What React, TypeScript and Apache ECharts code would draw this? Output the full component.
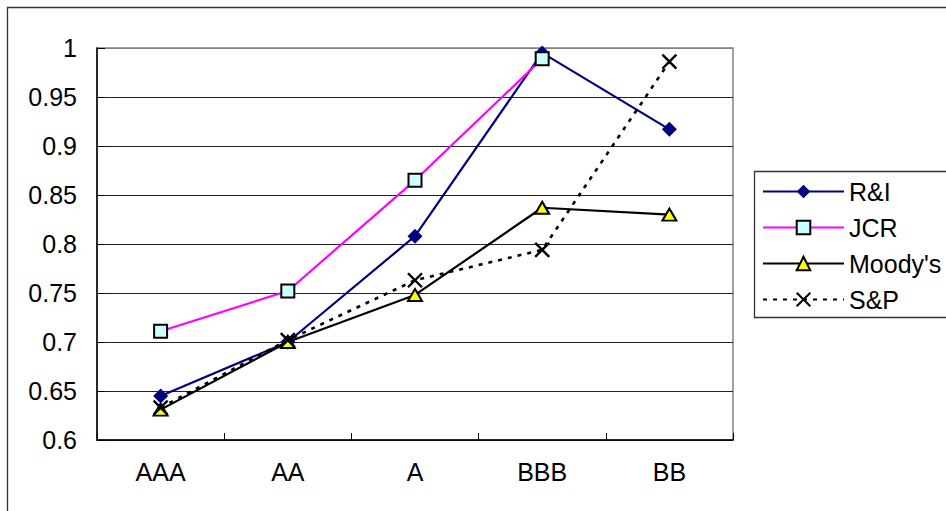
import React, { useEffect, useRef } from "react";
import * as echarts from "echarts";

const categories = ["AAA", "AA", "A", "BBB", "BB"];
const seriesNames = ["R&I", "JCR", "Moody's", "S&P"];
const riValues = [0.645, 0.7, 0.808, 0.995, 0.917];
const jcrValues = [0.711, 0.752, 0.865, 0.989, null];
const moodysValues = [0.631, 0.7, 0.748, 0.837, 0.83];
const spValues = [0.633, 0.702, 0.763, 0.794, 0.986];

const FONT = "'Liberation Sans', Arial, sans-serif";

export default function App() {
  const ref = useRef<HTMLDivElement>(null);
  useEffect(() => {
    if (!ref.current) return;
    const chart = echarts.init(ref.current, null, { renderer: "svg" });
    const gridColors = ["#222", "#222", "#222", "#222", "#222", "#222", "#222", "#222", "#808080"];
    chart.setOption({
      animation: false,
      backgroundColor: "#fff",
      textStyle: { fontFamily: FONT },
      grid: {
        left: 97,
        top: 48,
        right: 213,
        bottom: 71,
        show: true,
        borderColor: "#808080",
        borderWidth: 1.5,
        backgroundColor: "transparent",
      },
      graphic: [
        {
          type: "rect",
          shape: { x: 7.5, y: 7.5, width: 1200, height: 800 },
          style: { fill: "none", stroke: "#333", lineWidth: 1.3 },
          silent: true,
          z: -1,
        },
        {
          type: "rect",
          shape: { x: 754.5, y: 171.5, width: 400, height: 146 },
          style: { fill: "#fff", stroke: "#333", lineWidth: 1.3 },
          silent: true,
          z: 0,
        },
      ],
      legend: {
        orient: "vertical",
        left: 762,
        top: 179,
        padding: 0,
        itemWidth: 81,
        itemHeight: 17,
        itemGap: 11,
        z: 10,
        textStyle: { fontSize: 25, lineHeight: 25, color: "#000", fontFamily: FONT },
        data: seriesNames,
      },
      xAxis: {
        type: "category",
        data: categories,
        boundaryGap: true,
        axisLine: { show: true, lineStyle: { color: "#000", width: 1.5 } },
        axisTick: { show: true, inside: true, length: 7, lineStyle: { color: "#000" } },
        axisLabel: { fontSize: 25, color: "#000", margin: 19, fontFamily: FONT },
        splitLine: { show: false },
      },
      yAxis: {
        type: "value",
        min: 0.6,
        max: 1,
        interval: 0.05,
        axisLine: { show: true, lineStyle: { color: "#000", width: 1.5 } },
        axisTick: { show: true, inside: true, length: 8, lineStyle: { color: "#000" } },
        axisLabel: {
          fontSize: 25,
          color: "#000",
          margin: 20,
          fontFamily: FONT,
          formatter: (v: number) => String(+v.toFixed(2)),
        },
        splitLine: { show: true, lineStyle: { color: gridColors, width: 1 } },
      },
      series: [
        {
          name: seriesNames[0],
          type: "line",
          data: riValues,
          symbol: "diamond",
          symbolSize: [15, 15],
          lineStyle: { color: "#000080", width: 2.2 },
          itemStyle: { color: "#000080", borderColor: "#000080", borderWidth: 0 },
        },
        {
          name: seriesNames[1],
          type: "line",
          data: jcrValues,
          symbol: "rect",
          symbolSize: 13,
          lineStyle: { color: "#FF00FF", width: 2.2 },
          itemStyle: { color: "#CCFFFF", borderColor: "#000", borderWidth: 2 },
        },
        {
          name: seriesNames[2],
          type: "line",
          data: moodysValues,
          symbol: "triangle",
          symbolSize: [14, 12],
          lineStyle: { color: "#000", width: 2.2 },
          itemStyle: { color: "#FFFF00", borderColor: "#000", borderWidth: 2 },
        },
        {
          name: seriesNames[3],
          type: "line",
          data: spValues,
          symbol: "path://M0,0L10,10M10,0L0,10",
          symbolSize: 14,
          lineStyle: { color: "#000", width: 2.6, type: [4, 6] },
          itemStyle: { color: "none", borderColor: "#000", borderWidth: 2.4 },
        },
      ],
    });
    return () => chart.dispose();
  }, []);
  return (
    <div
      ref={ref}
      style={{ position: "absolute", left: 0, top: 0, width: 946, height: 511 }}
    />
  );
}
